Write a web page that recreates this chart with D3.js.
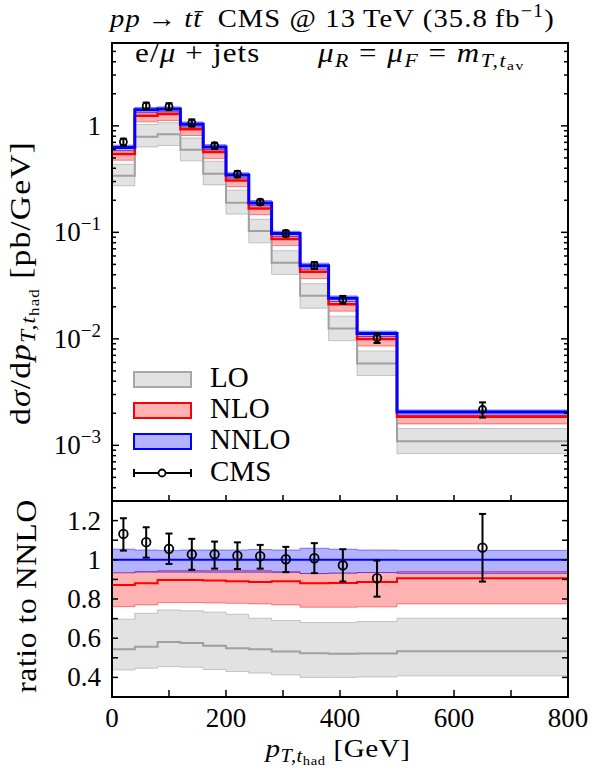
<!DOCTYPE html>
<html lang="en">
<head>
    <meta charset="UTF-8">
    <title>pT top had</title>
    <script src="https://d3js.org/d3.v7.min.js"></script>
    <style>
        body { margin: 0; background: #fff; }
        text { font-family: "Liberation Serif", "DejaVu Serif", serif; fill: #000; }
    </style>
</head>
<body>
<script>
    // bin edges in GeV
    var edges = [0, 40, 80, 120, 160, 200, 240, 280, 330, 380, 430, 500, 800]

    // NNLO central values, pb/GeV
    var nnlo = [0.625, 1.416, 1.438, 1.038, 0.634, 0.345, 0.189, 0.0975, 0.0485, 0.024, 0.01125, 0.00205]

    // everything else as ratio to NNLO
    var nnloUp = [1.054, 1.05, 1.048, 1.05, 1.05, 1.05, 1.052, 1.05, 1.059, 1.054, 1.05, 1.048]
    var nnloDn = [0.935, 0.937, 0.937, 0.937, 0.936, 0.936, 0.936, 0.935, 0.93, 0.932, 0.935, 0.93]

    var nlo = [0.872, 0.88, 0.897, 0.897, 0.894, 0.89, 0.887, 0.89, 0.88, 0.882, 0.887, 0.906]
    var nloUp = [0.932, 0.94, 0.945, 0.945, 0.945, 0.945, 0.945, 0.94, 0.93, 0.932, 0.935, 0.94]
    var nloDn = [0.761, 0.77, 0.782, 0.782, 0.78, 0.778, 0.775, 0.77, 0.758, 0.758, 0.76, 0.775]

    var lo = [0.544, 0.557, 0.58, 0.575, 0.561, 0.549, 0.544, 0.532, 0.523, 0.521, 0.522, 0.534]
    var loUp = [0.697, 0.727, 0.744, 0.74, 0.733, 0.722, 0.702, 0.69, 0.68, 0.68, 0.685, 0.702]
    var loDn = [0.438, 0.447, 0.455, 0.452, 0.44, 0.43, 0.422, 0.413, 0.40, 0.40, 0.402, 0.408]

    var cms = [1.132, 1.09, 1.056, 1.028, 1.028, 1.021, 1.018, 1.003, 1.008, 0.972, 0.906, 1.062]
    var cmsUp = [1.212, 1.166, 1.134, 1.107, 1.093, 1.089, 1.076, 1.066, 1.085, 1.054, 0.996, 1.234]
    var cmsDn = [1.047, 1.011, 0.979, 0.949, 0.955, 0.953, 0.955, 0.937, 0.932, 0.889, 0.812, 0.889]

    var xTicks = [0, 200, 400, 600, 800]
    var ratioTicks = [0.4, 0.6, 0.8, 1, 1.2]
    var ratioTickLabels = ["0.4", "0.6", "0.8", "1", "1.2"]
    var logTicks = [1, 0.1, 0.01, 0.001]
    var logTickExp = ["", "\u22121", "\u22122", "\u22123"]

    var width = 598, height = 769
    var left = 112, right = 568, top1 = 43, bot1 = 501, bot2 = 697

    var svg = d3.select("body").append("svg")
        .attr("width", width)
        .attr("height", height)

    var x = d3.scaleLinear().domain([0, 800]).range([left, right])
    var yTop = d3.scaleLog().domain([3e-4, 6]).range([bot1, top1])
    var yRat = d3.scaleLinear().domain([0.3, 1.3]).range([bot2, bot1])

    var grey = "#a0a0a0"

    // clip paths for the two panels
    var defs = svg.append("defs")
    defs.append("clipPath").attr("id", "clipTop").append("rect")
        .attr("x", left).attr("y", top1).attr("width", right - left).attr("height", bot1 - top1)
    defs.append("clipPath").attr("id", "clipRat").append("rect")
        .attr("x", left).attr("y", bot1).attr("width", right - left).attr("height", bot2 - bot1)

    function times(a, b) {
        return a.map(function (v, i) { return v * b[i] })
    }

    function stepPoints(vals) {
        var pts = []
        for (var i = 0; i < vals.length; i++) {
            pts.push([edges[i], vals[i]])
            pts.push([edges[i + 1], vals[i]])
        }
        return pts
    }

    function bandPoints(lo, hi) {
        var pts = []
        for (var i = 0; i < lo.length; i++) {
            pts.push({x: edges[i], lo: lo[i], hi: hi[i]})
            pts.push({x: edges[i + 1], lo: lo[i], hi: hi[i]})
        }
        return pts
    }

    function drawPanel(g, y, sets, lineWidths, pts, ptLo, ptHi, r) {
        var ln = d3.line().x(function (d) { return x(d[0]) }).y(function (d) { return y(d[1]) })
        sets.forEach(function (s) {
            var area = d3.area()
                .x(function (d) { return x(d.x) })
                .y0(function (d) { return y(d.lo) })
                .y1(function (d) { return y(d.hi) })
            g.append("path").attr("d", area(bandPoints(s.dn, s.up))).attr("fill", s.fill).attr("stroke", "none")
            g.append("path").attr("d", ln(stepPoints(s.up))).attr("fill", "none")
                .attr("stroke", s.edge).attr("stroke-width", 1)
            g.append("path").attr("d", ln(stepPoints(s.dn))).attr("fill", "none")
                .attr("stroke", s.edge).attr("stroke-width", 1)
        })
        sets.forEach(function (s, k) {
            g.append("path").attr("d", ln(stepPoints(s.c))).attr("fill", "none")
                .attr("stroke", s.line).attr("stroke-width", lineWidths[k])
        })
        // data points
        for (var i = 0; i < pts.length; i++) {
            var cx = x((edges[i] + edges[i + 1]) / 2)
            g.append("line").attr("x1", cx).attr("x2", cx)
                .attr("y1", y(ptLo[i])).attr("y2", y(ptHi[i]))
                .attr("stroke", "black").attr("stroke-width", 2)
            ;[ptLo[i], ptHi[i]].forEach(function (v) {
                g.append("line").attr("x1", cx - 3.5).attr("x2", cx + 3.5)
                    .attr("y1", y(v)).attr("y2", y(v))
                    .attr("stroke", "black").attr("stroke-width", 2)
            })
            g.append("circle").attr("cx", cx).attr("cy", y(pts[i])).attr("r", r)
                .attr("fill", "none").attr("stroke", "black").attr("stroke-width", 1.8)
        }
    }

    var sets = [
        {c: lo, up: loUp, dn: loDn, fill: "rgba(140,140,140,0.25)", edge: "rgba(140,140,140,0.45)", line: grey},
        {c: nlo, up: nloUp, dn: nloDn, fill: "rgba(255,0,0,0.3)", edge: "rgba(255,0,0,0.45)", line: "#ff0000"},
        {c: nnloDn.map(function () { return 1 }), up: nnloUp, dn: nnloDn, fill: "rgba(0,0,255,0.3)", edge: "rgba(0,0,255,0.45)", line: "#0000ff"}
    ]

    // top panel: absolute values
    var setsTop = sets.map(function (s) {
        return {c: times(s.c, nnlo), up: times(s.up, nnlo), dn: times(s.dn, nnlo), fill: s.fill, edge: s.edge, line: s.line}
    })
    var gTop = svg.append("g").attr("clip-path", "url(#clipTop)")
    drawPanel(gTop, yTop, setsTop, [2, 2.5, 3], times(cms, nnlo), times(cmsDn, nnlo), times(cmsUp, nnlo), 3.5)

    // ratio panel
    var gRat = svg.append("g").attr("clip-path", "url(#clipRat)")
    drawPanel(gRat, yRat, sets, [2, 2, 2], cms, cmsDn, cmsUp, 4.3)

    // frames
    var axes = svg.append("g")
    axes.append("rect").attr("x", left).attr("y", top1).attr("width", right - left).attr("height", bot2 - top1)
        .attr("fill", "none").attr("stroke", "black").attr("stroke-width", 2)
    axes.append("line").attr("x1", left).attr("x2", right).attr("y1", bot1).attr("y2", bot1)
        .attr("stroke", "black").attr("stroke-width", 2)

    // ticks, pointing inwards
    function tick(x1, y1, x2, y2) {
        axes.append("line").attr("x1", x1).attr("y1", y1).attr("x2", x2).attr("y2", y2)
            .attr("stroke", "black").attr("stroke-width", 1.5)
    }
    d3.range(100, 800, 100).forEach(function (v) {
        tick(x(v), bot1, x(v), bot1 - 6)
        tick(x(v), bot2, x(v), bot2 - 7)
    })
    // log ticks top panel
    for (var e = -4; e <= 0; e++) {
        for (var m = 1; m <= 9; m++) {
            var v = m * Math.pow(10, e)
            if (v < 3e-4 || v > 6) continue
            var len = m == 1 ? 7 : 4
            tick(left, yTop(v), left + len, yTop(v))
            tick(right, yTop(v), right - len, yTop(v))
        }
    }
    d3.range(0.4, 1.25, 0.1).forEach(function (v) {
        tick(left, yRat(v), left + 6, yRat(v))
        tick(right, yRat(v), right - 6, yRat(v))
    })

    // tick labels
    var tickSize = 27
    xTicks.forEach(function (v) {
        svg.append("text").attr("x", x(v)).attr("y", 727)
            .attr("text-anchor", "middle").attr("font-size", tickSize).text(v)
    })
    ratioTicks.forEach(function (v, i) {
        svg.append("text").attr("x", 101).attr("y", yRat(v) + 9)
            .attr("text-anchor", "end").attr("font-size", tickSize).text(ratioTickLabels[i])
    })
    logTicks.forEach(function (v, i) {
        var t = svg.append("text").attr("x", 101).attr("y", yTop(v) + 9)
            .attr("text-anchor", "end").attr("font-size", tickSize)
        if (logTickExp[i] == "") {
            t.text("1")
        } else {
            t.append("tspan").text("10")
            t.append("tspan").attr("dy", -11).attr("font-size", 19).text(logTickExp[i])
        }
    })

    // text with sub/superscripts: level 0 base, 1 sub, 2 subsub, -1 sup
    // the reference font is wider than Times, so a horizontal stretch sx is applied
    function mathText(parent, transform, size, parts, sx, spacing) {
        var t = parent.append("text").attr("x", 0).attr("y", 0).attr("font-size", size)
            .attr("transform", transform + " scale(" + (sx || 1) + ",1)")
        if (spacing) t.attr("letter-spacing", spacing)
        var offs = {"0": 0, "1": 0.18 * size, "2": 0.3 * size, "-1": -0.4 * size}
        var sizes = {"0": size, "1": 0.7 * size, "2": 0.5 * size, "-1": 0.7 * size}
        var cur = 0
        parts.forEach(function (p) {
            var lvl = p.l || 0
            var ts = t.append("tspan").attr("font-size", sizes[lvl]).text(p.t)
            var dy = offs[lvl] - cur
            if (dy != 0) ts.attr("dy", dy)
            if (p.i) ts.attr("font-style", "italic")
            cur = offs[lvl]
        })
        return t
    }

    // title
    mathText(svg, "translate(110,27)", 26, [
        {t: "pp", i: 1}, {t: "\u2009\u2192\u2009"}, {t: "tt\u0304", i: 1},
        {t: "\u2002CMS @ 13\u2009TeV (35.8\u2009fb"}, {t: "\u22121", l: -1}, {t: ")"}
    ], 1.1, 1)

    mathText(svg, "translate(135,62)", 27, [{t: "e/"}, {t: "\u03bc", i: 1}, {t: " + jets"}], 1.15, 1)
    mathText(svg, "translate(318,62)", 27, [
        {t: "\u03bc", i: 1}, {t: "R", i: 1, l: 1}, {t: " = "},
        {t: "\u03bc", i: 1}, {t: "F", i: 1, l: 1}, {t: " = "},
        {t: "m", i: 1}, {t: "T,", i: 1, l: 1}, {t: "t", i: 1, l: 1}, {t: "av", l: 2}
    ], 1.15, 1.3)

    // axis titles
    mathText(svg, "translate(30,283) rotate(-90)", 30, [
        {t: "d"}, {t: "\u03c3", i: 1}, {t: "/d"}, {t: "p", i: 1},
        {t: "T,", i: 1, l: 1}, {t: "t", i: 1, l: 1}, {t: "had", l: 2}, {t: " [pb/GeV]"}
    ], 1.12, 1).attr("text-anchor", "middle")

    mathText(svg, "translate(36,596) rotate(-90)", 30, [{t: "ratio to NNLO"}], 1.05, 0.6)
        .attr("text-anchor", "middle")

    mathText(svg, "translate(338,757)", 26, [
        {t: "p", i: 1}, {t: "T,", i: 1, l: 1}, {t: "t", i: 1, l: 1}, {t: "had", l: 2}, {t: " [GeV]"}
    ], 1.12, 0.5).attr("text-anchor", "middle")

    // legend
    var legend = [
        {name: "LO", fill: "#e1e1e1", stroke: "#a8a8a8", y: 372},
        {name: "NLO", fill: "#ffb3b3", stroke: "#ff0000", y: 403},
        {name: "NNLO", fill: "#b3b3ff", stroke: "#0000ff", y: 434}
    ]
    legend.forEach(function (d) {
        svg.append("rect").attr("x", 134).attr("y", d.y).attr("width", 57).attr("height", 15)
            .attr("fill", d.fill).attr("stroke", d.stroke).attr("stroke-width", 2)
        svg.append("text").attr("x", 210).attr("y", d.y + 15).attr("font-size", 29).text(d.name)
    })
    svg.append("line").attr("x1", 134).attr("x2", 191).attr("y1", 473).attr("y2", 473)
        .attr("stroke", "black").attr("stroke-width", 2)
    ;[134, 191].forEach(function (cx) {
        svg.append("line").attr("x1", cx).attr("x2", cx).attr("y1", 469).attr("y2", 477)
            .attr("stroke", "black").attr("stroke-width", 2)
    })
    svg.append("circle").attr("cx", 162).attr("cy", 473).attr("r", 3.5)
        .attr("fill", "white").attr("stroke", "black").attr("stroke-width", 1.8)
    svg.append("text").attr("x", 210).attr("y", 481).attr("font-size", 29).text("CMS")
</script>
</body>
</html>
